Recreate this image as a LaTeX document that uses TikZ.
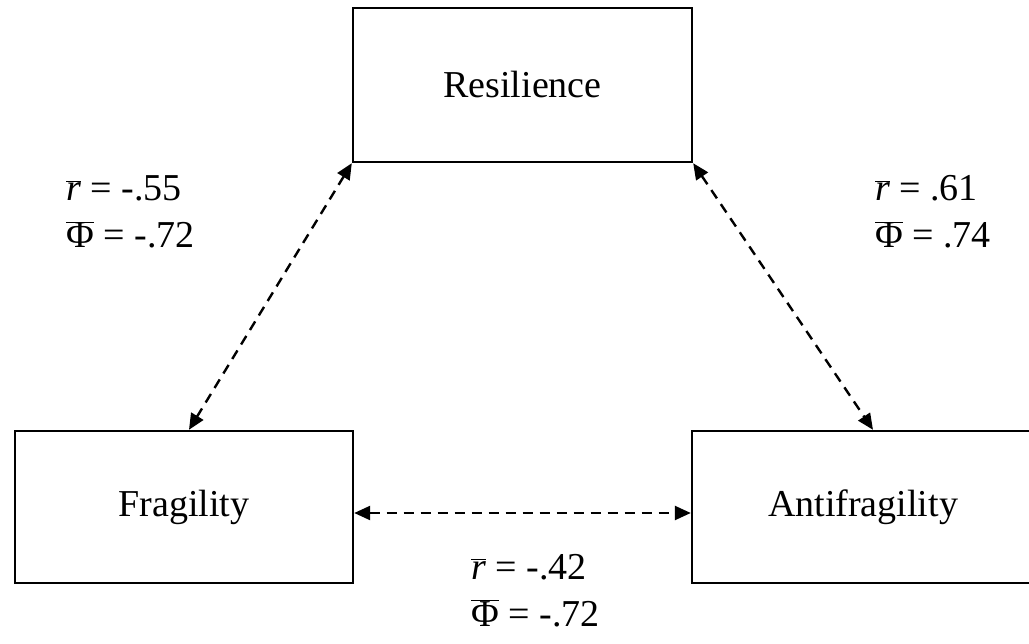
\documentclass[tikz,border=0pt]{standalone}
\usepackage{fontspec}
\setmainfont{Liberation Serif}
\usetikzlibrary{arrows.meta}
\begin{document}
\begin{tikzpicture}[x=1pt,y=-1pt,
  box/.style={draw,line width=2.4pt,inner sep=0pt,font=\fontsize{38}{45}\selectfont},
  lab/.style={align=left,inner sep=0pt,anchor=base west,font=\fontsize{38}{47}\selectfont},
  tip/.style={Triangle[length=16pt,width=14pt]},
  link/.style={line width=2.4pt,dash pattern=on 10pt off 7pt,{Triangle[length=16pt,width=14pt]}-{Triangle[length=16pt,width=14pt]}}]
\useasboundingbox (0,0) rectangle (1029,644);
\node[box,minimum width=339pt,minimum height=154pt] (res) at (522.5,85) {Resilience};
\node[box,minimum width=338pt,minimum height=152pt] (frag) at (184,507) {Fragility};
\node[box,minimum width=342pt,minimum height=152pt] (anti) at (863,507) {Antifragility};
\draw[link] (res.south west) -- ([xshift=5pt]frag.north);
\draw[link] (res.south east) -- ([xshift=10pt]anti.north);
\draw[link] ([yshift=-6pt]frag.east) -- ([yshift=-6pt]anti.west);
\node[lab] (l1) at (66,248) {$\overline{\textit{r}}$ = -.55\\$\overline{\textrm{Φ}}$ = -.72};
\node[lab] (l2) at (875,248) {$\overline{\textit{r}}$ = .61\\$\overline{\textrm{Φ}}$ = .74};
\node[lab] (l3) at (471,626) {$\overline{\textit{r}}$ = -.42\\$\overline{\textrm{Φ}}$ = -.72};
\end{tikzpicture}
\end{document}
